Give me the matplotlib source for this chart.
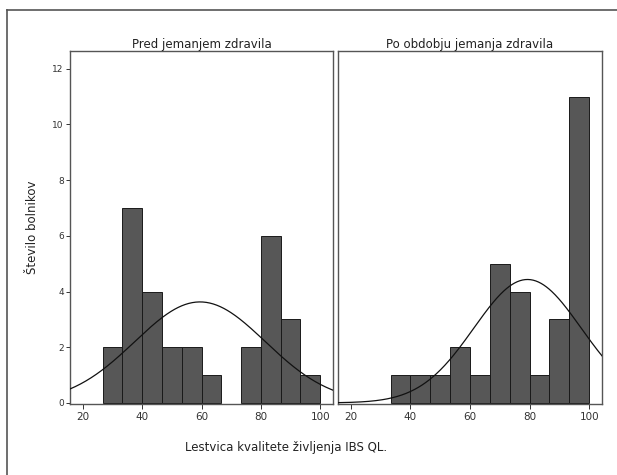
import numpy as np
import matplotlib
matplotlib.use('Agg')
import matplotlib.pyplot as plt
from matplotlib.lines import Line2D

# bin edges (width 20/3) and counts
bin_edges_before = [80/3, 100/3, 40, 140/3, 160/3, 60, 200/3, 220/3, 80, 260/3, 280/3, 100]
counts_before = [2, 7, 4, 2, 2, 1, 0, 2, 6, 3, 1]
bin_edges_after = [100/3, 40, 140/3, 160/3, 60, 200/3, 220/3, 80, 260/3, 280/3, 100]
counts_after = [1, 1, 1, 2, 1, 5, 4, 1, 3, 11]

# normal curve parameters (mean, sd)
norm_before = (59.5, 22.0)
norm_after = (79.3, 18.0)

titles = ['Pred jemanjem zdravila', 'Po obdobju jemanja zdravila']
x_ticks = [20, 40, 60, 80, 100]
y_ticks = [0, 2, 4, 6, 8, 10, 12]

plt.rcParams['font.family'] = ['DejaVu Sans']

fig = plt.figure(figsize=(6.17, 4.75), dpi=100)

# outer frame
fig.add_artist(Line2D([6.5/617, 6.5/617], [0, 1 - 10/475], color='#555555', lw=1.2))
fig.add_artist(Line2D([6.5/617, 1], [1 - 10/475, 1 - 10/475], color='#555555', lw=1.2))

panels = [
    (bin_edges_before, counts_before, norm_before, [70/617, 71/475, 263/617, 353/475]),
    (bin_edges_after, counts_after, norm_after, [338/617, 71/475, 264/617, 353/475]),
]

for i, (edges, counts, (mu, sd), pos) in enumerate(panels):
    ax = fig.add_axes(pos)
    edges = np.array(edges)
    counts = np.array(counts)
    keep = counts > 0
    ax.bar(edges[:-1][keep], counts[keep], width=np.diff(edges)[keep], align='edge',
           color='#575757', edgecolor='#1a1a1a', linewidth=0.7, zorder=2)
    xs = np.linspace(15.7, 104.3, 300)
    bw = 20 / 3
    ys = counts.sum() * bw / (sd * np.sqrt(2 * np.pi)) * np.exp(-0.5 * ((xs - mu) / sd) ** 2)
    ax.plot(xs, ys, color='#111111', lw=0.9, zorder=3)
    ax.set_xlim(15.7, 104.3)
    ax.set_ylim(-0.04, 12.64)
    ax.set_xticks(x_ticks)
    ax.set_yticks(y_ticks)
    ax.tick_params(axis='x', direction='out', length=3.5, width=0.7,
                   colors='#333333', labelsize=7.5, pad=2)
    ax.tick_params(axis='y', direction='out', length=3, width=0.7,
                   colors='#333333', labelsize=6.5, pad=1.5)
    if i == 1:
        ax.tick_params(axis='y', left=False, labelleft=False)
    for s in ax.spines.values():
        s.set_color('#555555')
        s.set_linewidth(1.0)
    ax.set_title(titles[i], fontsize=8.5, color='#222222', pad=1.5)

fig.text(33/617, 1 - 227/475, 'Število bolnikov', rotation=90, ha='center', va='center',
         fontsize=8.5, color='#222222')
fig.text(286/617, 1 - 447/475, 'Lestvica kvalitete življenja IBS QL.', ha='center', va='center',
         fontsize=8.5, color='#222222')

fig.savefig('out.png', dpi=100)
